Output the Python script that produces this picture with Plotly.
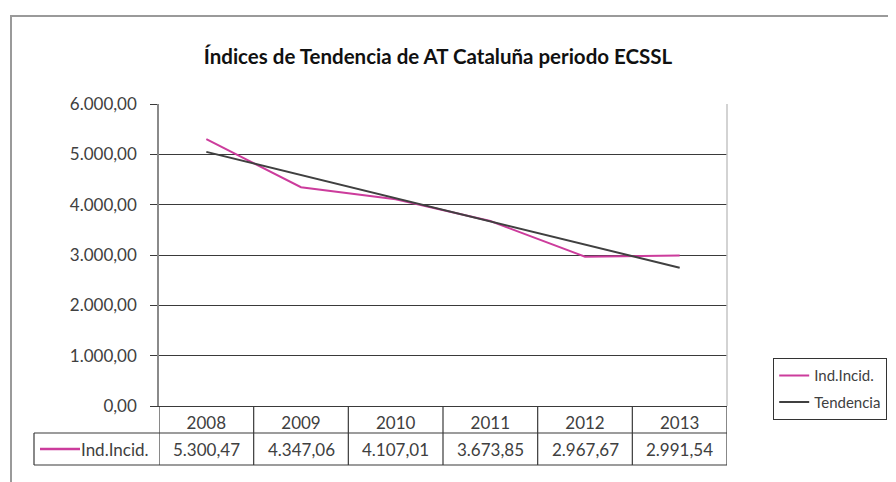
import plotly.graph_objects as go

years = ["2008", "2009", "2010", "2011", "2012", "2013"]
ind_incid = [5300.47, 4347.06, 4107.01, 3673.85, 2967.67, 2991.54]
tendencia = [5049.2, 4588.7, 4128.2, 3667.8, 3207.3, 2746.8]
value_labels = ["5.300,47", "4.347,06", "4.107,01", "3.673,85", "2.967,67", "2.991,54"]
y_ticks = [0, 1000, 2000, 3000, 4000, 5000, 6000]

FONT = "Lato"
PINK = "#CC3C9C"
DARK = "#404040"
LINEC = "#3a3a3a"

OFF = 8  # page body margin
W, H = 896 - OFF, 482 - OFF
# desired page-pixel plot area: x 159..727, y 104..406
L, R, T, B = 159 - OFF, 896 - 727, 104 - OFF, 482 - 406
pw, ph = W - L - R, H - T - B


def px_x(px):
    return (px - OFF - L) / pw


def px_y(py):
    return (H - B - (py - OFF)) / ph


fig = go.Figure()
fig.add_trace(go.Scatter(x=years, y=ind_incid, mode="lines", name="Ind.Incid.",
                         legendgroup="a", line=dict(color=PINK, width=2)))
fig.add_trace(go.Scatter(x=years, y=tendencia, mode="lines", name="Tendencia",
                         legendgroup="b", line=dict(color=DARK, width=2)))

shapes = []
# outer frame
shapes.append(dict(type="rect", xref="paper", yref="paper", x0=px_x(11), x1=px_x(1000),
                   y0=px_y(600), y1=px_y(16), line=dict(color="#9a9a9a", width=2)))
# plot area right border
shapes.append(dict(type="line", xref="paper", yref="paper", x0=1, x1=1, y0=0, y1=1,
                   line=dict(color="#c4c4c4", width=1.5)))
# table verticals at category boundaries
for i in range(len(years) + 1):
    shapes.append(dict(type="line", xref="x", yref="paper", x0=i - 0.5, x1=i - 0.5,
                       y0=px_y(465), y1=0, line=dict(color=LINEC, width=1.2)))
# table horizontals
shapes.append(dict(type="line", xref="paper", yref="paper", x0=px_x(34), x1=1,
                   y0=px_y(433), y1=px_y(433), line=dict(color=LINEC, width=1.2)))
shapes.append(dict(type="line", xref="paper", yref="paper", x0=px_x(34), x1=1,
                   y0=px_y(465), y1=px_y(465), line=dict(color=LINEC, width=1.2)))
shapes.append(dict(type="line", xref="paper", yref="paper", x0=px_x(34), x1=px_x(34),
                   y0=px_y(465), y1=px_y(433), line=dict(color=LINEC, width=1.2)))
# legend key in table
shapes.append(dict(type="line", xref="paper", yref="paper", x0=px_x(40), x1=px_x(80),
                   y0=px_y(449), y1=px_y(449), line=dict(color=PINK, width=2.5)))

annotations = []
for i, lab in enumerate(value_labels):
    annotations.append(dict(x=i, xref="x", y=px_y(449), yref="paper", text=lab,
                            showarrow=False, font=dict(family=FONT, size=17, color=DARK),
                            xanchor="center", yanchor="middle"))
annotations.append(dict(x=px_x(81), xref="paper", y=px_y(449), yref="paper", text="Ind.Incid.",
                        showarrow=False, font=dict(family=FONT, size=17, color=DARK),
                        xanchor="left", yanchor="middle", xshift=-2))

fig.update_layout(
    width=W, height=H,
    margin=dict(l=L, r=R, t=T, b=B, autoexpand=False),
    paper_bgcolor="white", plot_bgcolor="white",
    separators=",.",
    title=dict(text="<b>Índices de Tendencia de AT Cataluña periodo ECSSL</b>",
               x=(438 - OFF) / W, xref="container", xanchor="center",
               y=1 - (57 - OFF) / H, yref="container", yanchor="middle",
               font=dict(family=FONT, size=20.5, color="#111111")),
    xaxis=dict(type="category", range=[-0.5, 5.5], showgrid=False, zeroline=False,
               showline=True, linecolor=LINEC, linewidth=1.2, ticks="",
               tickfont=dict(family=FONT, size=17, color=DARK), ticklabelstandoff=1),
    yaxis=dict(range=[0, 6000], tickvals=y_ticks, tickformat=",.2f",
               showgrid=True, gridcolor=LINEC, gridwidth=1.2, zeroline=False,
               showline=True, linecolor="#8a8a8a", linewidth=1.5,
               ticks="outside", ticklen=7, tickcolor=LINEC, ticklabelstandoff=10,
               tickfont=dict(family=FONT, size=17, color=DARK)),
    legend=dict(x=px_x(773), y=px_y(358), xanchor="left", yanchor="top",
                xref="paper", yref="paper",
                bordercolor="#333333", borderwidth=1.2, bgcolor="white",
                font=dict(family=FONT, size=15, color=DARK),
                traceorder="grouped", tracegroupgap=4, itemwidth=30),
    shapes=shapes,
    annotations=annotations,
    showlegend=True,
)

fig.write_html("out.html")
